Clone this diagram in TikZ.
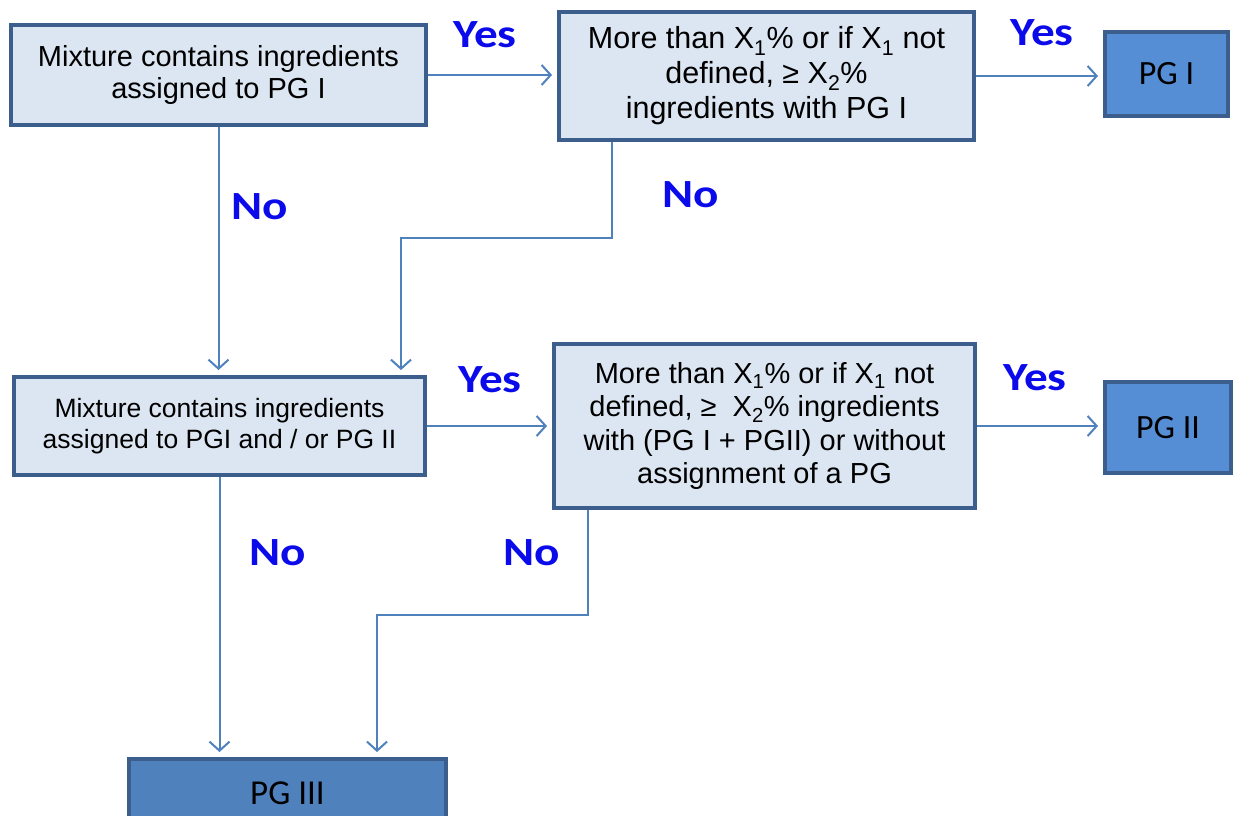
\documentclass[tikz,border=0pt]{standalone}
\usepackage{fontspec}
\setmainfont{Liberation Sans}
\newfontfamily\calfont{Carlito}
\newfontfamily\lblfont[FakeStretch=1.18]{Carlito}
\usetikzlibrary{arrows.meta}
\definecolor{boxline}{RGB}{59,94,140}
\definecolor{lightfill}{RGB}{220,230,242}
\definecolor{pgfillA}{RGB}{85,142,213}
\definecolor{pgfillB}{RGB}{79,129,189}
\definecolor{conn}{RGB}{79,129,189}
\definecolor{lblblue}{RGB}{10,10,235}
\tikzset{
  qbox/.style={draw=boxline, line width=4pt, fill=lightfill, rectangle, align=center, inner sep=2pt},
  pgbox/.style={draw=boxline, line width=4pt, rectangle, align=center, inner sep=2pt, font=\calfont\fontsize{34}{38}\selectfont},
  conline/.style={draw=conn, line width=2pt, -{Straight Barb[length=9pt,width=20pt,line width=2pt]}, shorten >=5pt},
  lbl/.style={text=lblblue, font=\lblfont\bfseries\fontsize{40}{44}\selectfont, inner sep=0pt}
}
\begin{document}
\begin{tikzpicture}[x=1pt,y=-1pt]
\useasboundingbox (0,0) rectangle (1235,815);
\clip (0,0) rectangle (1235,815);
\fill[white] (0,0) rectangle (1235,815);

% boxes
\node[qbox, minimum width=415pt, minimum height=100pt, font=\fontsize{29}{32}\selectfont] (A) at (218.5,75) {Mixture contains ingredients\\assigned to PG I};
\node[qbox, minimum width=415pt, minimum height=128pt, font=\fontsize{30.5}{35}\selectfont] (B) at (766.5,76) {More than X\textsubscript{1}\% or if X\textsubscript{1} not\\defined, ≥ X\textsubscript{2}\%\\ingredients with PG I};
\node[pgbox, fill=pgfillA, minimum width=123pt, minimum height=84pt] (P1) at (1166.5,74) {PG I};

\node[qbox, minimum width=411pt, minimum height=98pt, font=\fontsize{26.5}{31}\selectfont] (C) at (219.5,426) {Mixture contains ingredients\\assigned to PGI and / or PG II};
\node[qbox, minimum width=421pt, minimum height=164pt, font=\fontsize{29}{33.5}\selectfont] (D) at (764.5,426) {More than X\textsubscript{1}\% or if X\textsubscript{1} not\\defined, ≥~ X\textsubscript{2}\% ingredients\\with (PG I + PGII) or without\\assignment of a PG};
\node[pgbox, fill=pgfillA, minimum width=126pt, minimum height=91pt] (P2) at (1168,427.5) {PG II};

\node[pgbox, fill=pgfillB, minimum width=317pt, minimum height=68pt, font=\calfont\fontsize{35}{39}\selectfont] (P3) at (287.5,793) {PG III};

% bend coordinates
\coordinate (b1) at (612,238);
\coordinate (b2) at (401,238);
\coordinate (d1) at (588,615);
\coordinate (d2) at (377,615);

% connectors
\draw[conline] (A.east) -- (A.east -| B.west);
\draw[conline] (B.east) -- (B.east -| P1.west);
\draw[conline] (A.south) -- (A.south |- C.north);
\draw[conline] (B.south -| b1) -- (b1) -- (b2) -- (b2 |- C.north);
\draw[conline] (C.east) -- (C.east -| D.west);
\draw[conline] (D.east) -- (D.east -| P2.west);
\draw[conline] (C.south) -- (C.south |- P3.north);
\draw[conline] (D.south -| d1) -- (d1) -- (d2) -- (d2 |- P3.north);

% labels
\node[lbl] (y1) at (485,35) {Yes};
\node[lbl] (y2) at (1042,33) {Yes};
\node[lbl] (y3) at (490,380) {Yes};
\node[lbl] (y4) at (1035,378) {Yes};
\node[lbl] (n1) at (260,207) {No};
\node[lbl] (n2) at (691,195) {No};
\node[lbl] (n3) at (278,553) {No};
\node[lbl] (n4) at (532,553) {No};
\end{tikzpicture}
\end{document}
